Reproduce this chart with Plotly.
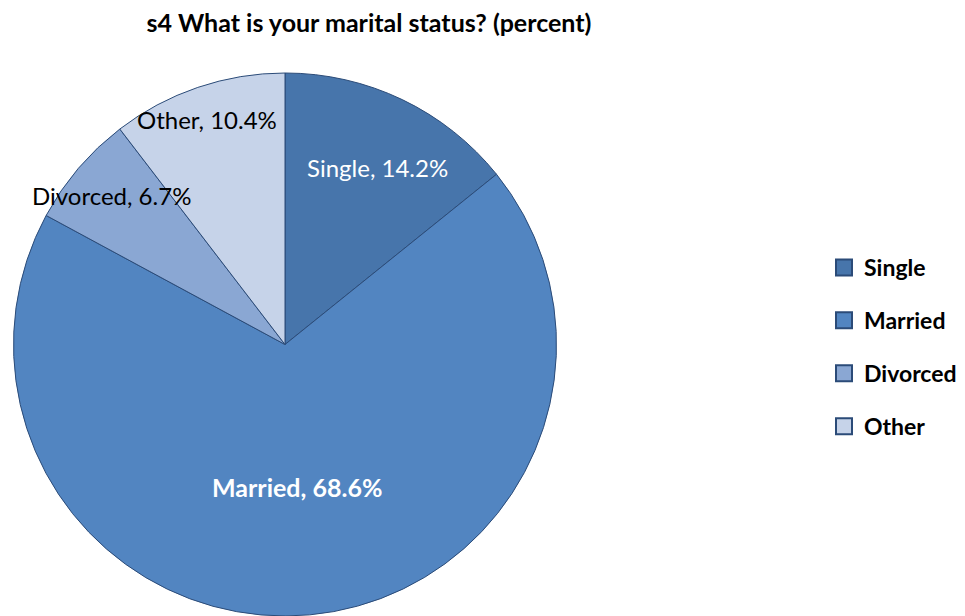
import plotly.graph_objects as go

categories = ["Single", "Married", "Divorced", "Other"]
values = [14.2, 68.6, 6.7, 10.4]
colors = ["#4775ab", "#5285c1", "#8aa7d3", "#c6d3e9"]
label_colors = ["white", "white", "black", "black"]
label_bold = [False, True, False, False]
label_size = [24, 25, 24, 24]
# label anchor positions in pixels (x, y from top)
label_pos = [(369, 159), (289, 479), (103, 187), (199, 111)]

W, H = 965, 616
fig = go.Figure()
fig.add_trace(go.Pie(
    labels=categories, values=values, sort=False, direction="clockwise",
    rotation=0, marker=dict(colors=colors, line=dict(color="#2b4b78", width=1)),
    textinfo="none", hoverinfo="label+percent", showlegend=False,
    domain=dict(x=[5 / W, 549 / W], y=[1 - 608 / H, 1 - 65 / H]),
))

for c, col in zip(categories, colors):
    fig.add_trace(go.Scatter(
        x=[None], y=[None], mode="markers", name=c, legendgroup=c,
        marker=dict(symbol="square", size=19, color=col,
                    line=dict(color="#2b4b78", width=2)),
    ))

for c, v, (px, py), tc, b, s in zip(categories, values, label_pos, label_colors, label_bold, label_size):
    txt = f"{c}, {v}%"
    if b:
        txt = f"<b>{txt}</b>"
    fig.add_annotation(x=px / W, y=1 - py / H, xref="paper", yref="paper",
                       text=txt, showarrow=False, xanchor="center", yanchor="middle",
                       font=dict(family="Lato", size=s, color=tc))

fig.update_layout(
    width=W, height=H, margin=dict(l=0, r=0, t=0, b=0),
    paper_bgcolor="white", plot_bgcolor="white",
    title=dict(text="<b>s4 What is your marital status? (percent)</b>",
               x=361 / W, xanchor="center", y=1 - 15 / H, yanchor="middle",
               font=dict(family="Lato", size=25, color="black")),
    xaxis=dict(visible=False), yaxis=dict(visible=False),
    legend=dict(x=816 / W, xanchor="left", y=1 - 238 / H, yanchor="top",
                tracegroupgap=20, itemsizing="trace", itemwidth=30,
                font=dict(family="Lato", size=23, color="black", weight="bold"),
                bgcolor="rgba(0,0,0,0)"),
)

fig.write_html("out.html")
